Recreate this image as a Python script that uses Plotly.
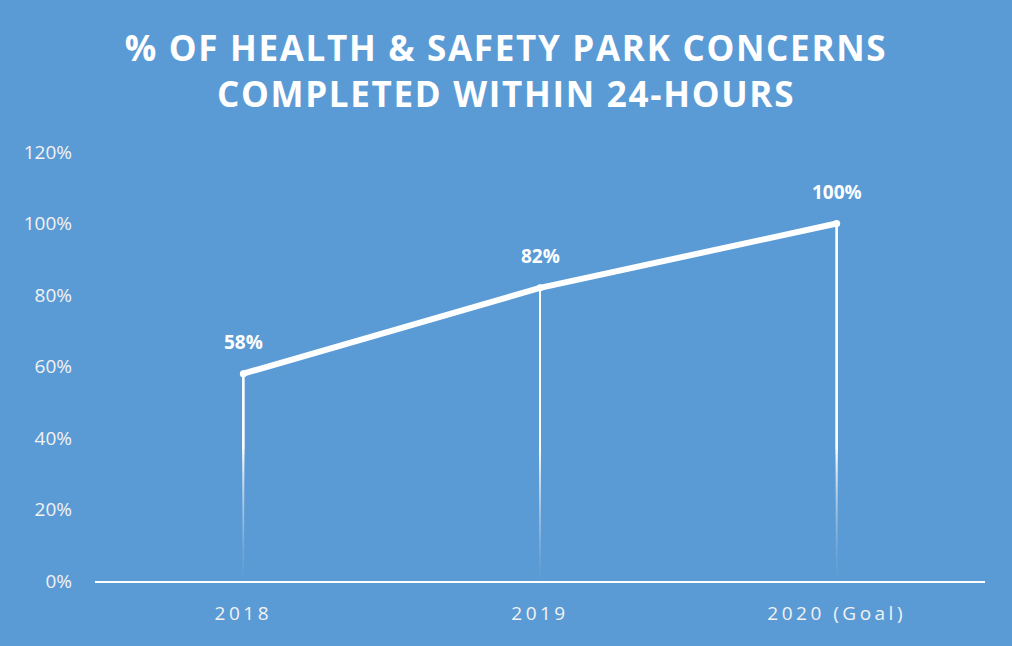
import plotly.graph_objs as go

years = ["2018", "2019", "2020 (Goal)"]
pct_done = [0.58, 0.82, 1.00]
ytick_vals = [0, 0.2, 0.4, 0.6, 0.8, 1.0, 1.2]
ytick_text = ["0%", "20%", "40%", "60%", "80%", "100%", "120%"]

bg = "#5B9BD5"
txt = "#F2F2F2"
fnt = "Open Sans"

fig = go.Figure()

# drop lines fading out towards the axis: stacked lines that all run up to
# the point, each starting a bit higher, so the opacities add up smoothly
n_seg = 30
fade_top = 0.38
for i, v in enumerate(pct_done):
    prev = 0.0
    for k in range(n_seg):
        target = ((k + 1) / n_seg) ** 1.3
        a = 1 - (1 - target) / (1 - prev) if prev < 1 else 1.0
        prev = target
        fig.add_shape(
            type="line", xref="x", yref="y",
            x0=i, x1=i, y0=fade_top * k / n_seg, y1=v,
            line=dict(color=f"rgba(255,255,255,{a:.4f})", width=2),
            layer="below",
        )

fig.add_trace(
    go.Scatter(
        x=years,
        y=pct_done,
        mode="lines+markers",
        line=dict(color="white", width=6),
        marker=dict(color="white", size=7),
        hoverinfo="skip",
        showlegend=False,
    )
)

# labels above points (x by index: "2018" would be read as a category number)
for i, v in enumerate(pct_done):
    fig.add_annotation(
        x=i, y=v, text=f"<b>{round(v * 100)}%</b>",
        showarrow=False, yshift=32,
        font=dict(family=fnt, size=19, color="white"),
    )

fig.update_layout(
    width=1012,
    height=646,
    paper_bgcolor=bg,
    plot_bgcolor=bg,
    margin=dict(l=95, r=27, t=152, b=65),
    title=dict(
        text="<b>% OF HEALTH &amp; SAFETY PARK CONCERNS<br>COMPLETED WITHIN 24-HOURS</b>",
        x=0.5, xanchor="center",
        y=1 - 61 / 646, yref="container", yanchor="middle",
        font=dict(family=fnt, size=35, color="white"),
    ),
    font=dict(family=fnt, color=txt),
    xaxis=dict(
        type="category",
        range=[-0.5, 2.5],
        showgrid=False,
        zeroline=False,
        showline=True,
        linecolor="white",
        linewidth=2,
        ticks="",
        tickfont=dict(family=fnt, size=19, color=txt),
        ticklabelstandoff=14,
    ),
    yaxis=dict(
        range=[0, 1.2],
        tickvals=ytick_vals,
        ticktext=ytick_text,
        showgrid=False,
        zeroline=False,
        showline=False,
        ticks="",
        tickfont=dict(family=fnt, size=19, color=txt),
        ticklabelstandoff=22,
    ),
)

# no page margin, and the spaced-out lettering of the original
post = """
document.body.style.margin = '0';
var gd = document.getElementById('{plot_id}');
gd.querySelectorAll('.gtitle').forEach(function(t){ t.style.letterSpacing = '1.7px'; });
gd.querySelectorAll('.xtick text').forEach(function(t){ t.style.letterSpacing = '3.5px'; });
"""

fig.write_html("out.html", post_script=post, config={"displayModeBar": False})
